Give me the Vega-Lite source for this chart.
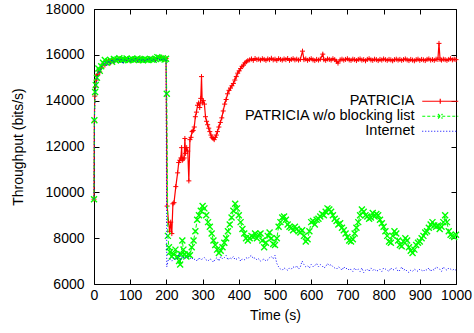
{
"$schema": "https://vega.github.io/schema/vega-lite/v6.json",
"width": 362, "height": 275,
"autosize": "none",
"padding": {"left": 94, "top": 9, "right": 18, "bottom": 49},
"config": {
  "font": "Liberation Sans",
  "view": {"stroke": "black", "strokeWidth": 1},
  "axis": {"domain": false, "grid": false, "tickColor": "black", "tickWidth": 1, "labelColor": "black", "titleColor": "black", "labelFontSize": 14, "titleFontSize": 14, "titleFontWeight": "normal", "labelFont": "Liberation Sans", "titleFont": "Liberation Sans"}
},
"datasets": {
"red": [
{"t":0,"v":9700},{"t":1,"v":13100},{"t":2,"v":14200},{"t":4,"v":14600},{"t":6,"v":14900},{"t":8,"v":15100},{"t":10,"v":15150},{"t":13,"v":15300},{"t":16,"v":15250},{"t":20,"v":15450},{"t":25,"v":15600},{"t":30,"v":15550},{"t":35,"v":15700},{"t":40,"v":15750},{"t":45,"v":15650},{"t":50,"v":15780},{"t":55,"v":15700},{"t":60,"v":15800},{"t":65,"v":15760},{"t":70,"v":15820},{"t":75,"v":15780},{"t":80,"v":15760},{"t":85,"v":15820},{"t":90,"v":15780},{"t":95,"v":15800},{"t":100,"v":15740},{"t":105,"v":15800},{"t":110,"v":15830},{"t":115,"v":15770},{"t":120,"v":15800},{"t":125,"v":15760},{"t":130,"v":15820},{"t":135,"v":15790},{"t":140,"v":15760},{"t":145,"v":15800},{"t":150,"v":15830},{"t":155,"v":15780},{"t":160,"v":15810},{"t":165,"v":15820},{"t":170,"v":15790},{"t":175,"v":15850},{"t":180,"v":15880},{"t":185,"v":15840},{"t":190,"v":15860},{"t":195,"v":15820},{"t":199,"v":15840},
{"t":202,"v":9400},{"t":206,"v":8700},{"t":209,"v":8300},{"t":212,"v":8700},{"t":215,"v":8200},{"t":218,"v":9500},{"t":221,"v":9550},{"t":226,"v":10250},{"t":231,"v":10850},{"t":234,"v":11300},{"t":237,"v":11400},{"t":240,"v":11500},{"t":242,"v":11950},{"t":244,"v":11400},{"t":246,"v":11450},{"t":249,"v":11500},{"t":251,"v":12350},{"t":253,"v":11700},{"t":256,"v":11950},{"t":259,"v":11800},{"t":262,"v":10500},{"t":265,"v":12300},{"t":268,"v":12400},{"t":271,"v":12650},{"t":274,"v":12700},{"t":277,"v":12850},{"t":280,"v":13300},{"t":283,"v":13500},{"t":286,"v":13800},{"t":289,"v":13900},{"t":292,"v":13700},{"t":295,"v":14100},{"t":297,"v":15050},{"t":299,"v":13900},{"t":302,"v":14000},{"t":305,"v":13850},{"t":308,"v":13300},{"t":311,"v":13100},{"t":314,"v":12950},{"t":317,"v":12800},{"t":320,"v":12650},{"t":323,"v":12500},{"t":326,"v":12400},{"t":329,"v":12350},{"t":332,"v":12300},{"t":335,"v":12400},{"t":338,"v":12500},{"t":341,"v":12650},{"t":345,"v":12850},{"t":349,"v":13050},{"t":353,"v":13250},{"t":357,"v":13550},{"t":361,"v":13850},{"t":365,"v":14050},{"t":369,"v":14300},{"t":373,"v":14450},{"t":377,"v":14550},{"t":381,"v":14650},{"t":385,"v":14750},{"t":389,"v":14900},{"t":393,"v":15050},{"t":397,"v":15200},{"t":401,"v":15300},{"t":405,"v":15400},{"t":409,"v":15500},{"t":413,"v":15550},{"t":417,"v":15650},{"t":421,"v":15700},{"t":425,"v":15750},
{"t":430,"v":15780},{"t":435,"v":15820},{"t":440,"v":15760},{"t":445,"v":15840},{"t":450,"v":15790},{"t":455,"v":15810},{"t":460,"v":15770},{"t":465,"v":15830},{"t":470,"v":15800},{"t":475,"v":15760},{"t":480,"v":15820},{"t":485,"v":15790},{"t":490,"v":15850},{"t":495,"v":15780},{"t":500,"v":15810},{"t":505,"v":15760},{"t":510,"v":15830},{"t":515,"v":15800},{"t":520,"v":15770},{"t":525,"v":15820},{"t":530,"v":15790},{"t":535,"v":15840},{"t":540,"v":15760},{"t":545,"v":15800},{"t":550,"v":15830},{"t":555,"v":15780},{"t":560,"v":15810},{"t":565,"v":15770},{"t":570,"v":15800},{"t":576,"v":16160},{"t":580,"v":15790},{"t":585,"v":15820},{"t":590,"v":15760},{"t":595,"v":15800},{"t":600,"v":15830},{"t":605,"v":15780},{"t":610,"v":15750},{"t":615,"v":15800},{"t":620,"v":15770},{"t":625,"v":15810},{"t":632,"v":16030},{"t":635,"v":15790},{"t":640,"v":15760},{"t":645,"v":15820},{"t":650,"v":15800},{"t":655,"v":15770},{"t":660,"v":15830},{"t":665,"v":15790},{"t":670,"v":15720},{"t":674,"v":15640},{"t":680,"v":15780},{"t":685,"v":15810},{"t":690,"v":15770},{"t":695,"v":15800},{"t":700,"v":15830},{"t":705,"v":15780},{"t":710,"v":15760},{"t":715,"v":15810},{"t":720,"v":15790},{"t":725,"v":15750},{"t":730,"v":15800},{"t":735,"v":15820},{"t":740,"v":15770},{"t":745,"v":15790},{"t":750,"v":15740},{"t":755,"v":15800},{"t":760,"v":15830},{"t":765,"v":15780},{"t":770,"v":15760},{"t":775,"v":15810},{"t":780,"v":15790},{"t":785,"v":15750},{"t":790,"v":15800},{"t":795,"v":15770},{"t":800,"v":15820},{"t":805,"v":15790},{"t":810,"v":15760},{"t":815,"v":15800},{"t":820,"v":15780},{"t":825,"v":15740},{"t":830,"v":15790},{"t":835,"v":15810},{"t":840,"v":15770},{"t":845,"v":15800},{"t":850,"v":15760},{"t":855,"v":15790},{"t":860,"v":15820},{"t":865,"v":15780},{"t":870,"v":15750},{"t":875,"v":15800},{"t":880,"v":15770},{"t":885,"v":15740},{"t":890,"v":15790},{"t":895,"v":15810},{"t":900,"v":15760},{"t":905,"v":15800},{"t":910,"v":15780},{"t":915,"v":15750},{"t":920,"v":15800},{"t":925,"v":15820},{"t":930,"v":15770},{"t":935,"v":15790},{"t":940,"v":15760},{"t":945,"v":15810},{"t":950,"v":15800},{"t":953,"v":16500},{"t":956,"v":15800},{"t":960,"v":15770},{"t":965,"v":15810},{"t":970,"v":15790},{"t":975,"v":15760},{"t":980,"v":15800},{"t":985,"v":15830},{"t":990,"v":15780},{"t":995,"v":15810},{"t":1000,"v":15790}
],
"green": [
{"t":0,"v":9700},{"t":1,"v":13150},{"t":3,"v":14380},{"t":5,"v":14680},{"t":8,"v":15000},{"t":12,"v":15400},{"t":16,"v":15300},{"t":20,"v":15500},{"t":25,"v":15650},{"t":30,"v":15770},{"t":35,"v":15650},{"t":40,"v":15720},{"t":45,"v":15780},{"t":50,"v":15700},{"t":55,"v":15820},{"t":60,"v":15760},{"t":65,"v":15800},{"t":70,"v":15850},{"t":75,"v":15760},{"t":80,"v":15800},{"t":85,"v":15780},{"t":90,"v":15840},{"t":95,"v":15760},{"t":100,"v":15800},{"t":105,"v":15820},{"t":110,"v":15780},{"t":115,"v":15800},{"t":120,"v":15840},{"t":125,"v":15770},{"t":130,"v":15800},{"t":135,"v":15760},{"t":140,"v":15820},{"t":145,"v":15790},{"t":150,"v":15770},{"t":155,"v":15820},{"t":160,"v":15800},{"t":165,"v":15780},{"t":170,"v":15830},{"t":175,"v":15900},{"t":180,"v":15870},{"t":185,"v":15820},{"t":190,"v":15850},{"t":195,"v":15800},{"t":199,"v":15830},{"t":201,"v":14300},
{"t":204,"v":8100},{"t":207,"v":7600},{"t":210,"v":7400},{"t":215,"v":7200},{"t":220,"v":7300},{"t":225,"v":7500},{"t":230,"v":7200},{"t":235,"v":7000},{"t":238,"v":6850},{"t":241,"v":7300},{"t":244,"v":7900},{"t":247,"v":7500},{"t":250,"v":7300},{"t":255,"v":7200},{"t":260,"v":7300},{"t":265,"v":7250},{"t":270,"v":7600},{"t":275,"v":7900},{"t":280,"v":8300},{"t":285,"v":8800},{"t":290,"v":9000},{"t":295,"v":9200},{"t":300,"v":9400},{"t":305,"v":9300},{"t":310,"v":9000},{"t":315,"v":8700},{"t":320,"v":8500},{"t":325,"v":8200},{"t":330,"v":7900},{"t":335,"v":7700},{"t":340,"v":7500},{"t":345,"v":7350},{"t":350,"v":7450},{"t":355,"v":7600},{"t":360,"v":7800},{"t":365,"v":8000},{"t":370,"v":8300},{"t":375,"v":8600},{"t":380,"v":8900},{"t":385,"v":9200},{"t":390,"v":9500},{"t":395,"v":9300},{"t":400,"v":9000},{"t":405,"v":8700},{"t":410,"v":8400},{"t":415,"v":8200},{"t":420,"v":8000},{"t":425,"v":7900},{"t":430,"v":8000},{"t":435,"v":8100},{"t":440,"v":8050},{"t":445,"v":8200},{"t":450,"v":8000},{"t":455,"v":8150},{"t":460,"v":8200},{"t":465,"v":7900},{"t":470,"v":7600},{"t":475,"v":7800},{"t":480,"v":8100},{"t":485,"v":8250},{"t":490,"v":8000},{"t":495,"v":7750},{"t":500,"v":7700},{"t":505,"v":8000},{"t":510,"v":8500},{"t":515,"v":8700},{"t":520,"v":8900},{"t":525,"v":8950},{"t":530,"v":8800},{"t":535,"v":8600},{"t":540,"v":8500},{"t":545,"v":8450},{"t":550,"v":8350},{"t":555,"v":8500},{"t":560,"v":8400},{"t":565,"v":8300},{"t":570,"v":8250},{"t":575,"v":8350},{"t":580,"v":8100},{"t":585,"v":7850},{"t":590,"v":7950},{"t":595,"v":8300},{"t":600,"v":8700},{"t":605,"v":8750},{"t":610,"v":8600},{"t":615,"v":8800},{"t":620,"v":8850},{"t":625,"v":8950},{"t":630,"v":9050},{"t":635,"v":9000},{"t":640,"v":9150},{"t":645,"v":9300},{"t":650,"v":9250},{"t":655,"v":9150},{"t":660,"v":9000},{"t":665,"v":8850},{"t":670,"v":8750},{"t":675,"v":8600},{"t":680,"v":8650},{"t":685,"v":8450},{"t":690,"v":8350},{"t":695,"v":8200},{"t":700,"v":8050},{"t":705,"v":7900},{"t":710,"v":7850},{"t":715,"v":7950},{"t":720,"v":8200},{"t":725,"v":8450},{"t":730,"v":8700},{"t":735,"v":9000},{"t":740,"v":9250},{"t":745,"v":9150},{"t":750,"v":9000},{"t":755,"v":8950},{"t":760,"v":8850},{"t":765,"v":8900},{"t":770,"v":9100},{"t":775,"v":8950},{"t":780,"v":9050},{"t":785,"v":9000},{"t":790,"v":8800},{"t":795,"v":8650},{"t":800,"v":8500},{"t":805,"v":8300},{"t":810,"v":8100},{"t":815,"v":7850},{"t":820,"v":7800},{"t":825,"v":8100},{"t":830,"v":8300},{"t":835,"v":8200},{"t":840,"v":7900},{"t":845,"v":7700},{"t":850,"v":7650},{"t":855,"v":7850},{"t":860,"v":8000},{"t":865,"v":7900},{"t":870,"v":7600},{"t":875,"v":7450},{"t":880,"v":7350},{"t":885,"v":7500},{"t":890,"v":7700},{"t":895,"v":7800},{"t":900,"v":7850},{"t":905,"v":8000},{"t":910,"v":8100},{"t":915,"v":8250},{"t":920,"v":8300},{"t":925,"v":8450},{"t":930,"v":8600},{"t":935,"v":8700},{"t":940,"v":8550},{"t":945,"v":8500},{"t":950,"v":8550},{"t":955,"v":8400},{"t":960,"v":8500},{"t":965,"v":8700},{"t":970,"v":9000},{"t":975,"v":8700},{"t":980,"v":8300},{"t":985,"v":8150},{"t":990,"v":8100},{"t":995,"v":8050},{"t":1000,"v":8150}
],
"blue": [
{"t":0,"v":9700},{"t":1,"v":13000},{"t":3,"v":14300},{"t":5,"v":14600},{"t":8,"v":14900},{"t":12,"v":15300},{"t":16,"v":15200},{"t":20,"v":15450},{"t":25,"v":15550},{"t":30,"v":15700},{"t":35,"v":15500},{"t":40,"v":15750},{"t":45,"v":15600},{"t":50,"v":15800},{"t":55,"v":15650},{"t":60,"v":15750},{"t":65,"v":15850},{"t":70,"v":15700},{"t":75,"v":15800},{"t":80,"v":15600},{"t":85,"v":15800},{"t":90,"v":15750},{"t":95,"v":15850},{"t":100,"v":15700},{"t":105,"v":15800},{"t":110,"v":15750},{"t":115,"v":15850},{"t":120,"v":15700},{"t":125,"v":15800},{"t":130,"v":15750},{"t":135,"v":15820},{"t":140,"v":15700},{"t":145,"v":15800},{"t":150,"v":15780},{"t":155,"v":15850},{"t":160,"v":15750},{"t":165,"v":15800},{"t":170,"v":15700},{"t":175,"v":15850},{"t":180,"v":15800},{"t":185,"v":15750},{"t":190,"v":15850},{"t":195,"v":15800},{"t":199,"v":15800},{"t":201,"v":6750},
{"t":205,"v":7050},{"t":210,"v":7100},{"t":215,"v":7000},{"t":220,"v":7150},{"t":225,"v":7050},{"t":230,"v":7100},{"t":235,"v":7350},{"t":240,"v":7050},{"t":245,"v":7200},{"t":250,"v":7100},{"t":255,"v":7150},{"t":260,"v":7200},{"t":265,"v":7100},{"t":270,"v":7150},{"t":275,"v":7050},{"t":280,"v":7100},{"t":285,"v":7000},{"t":290,"v":7150},{"t":295,"v":7050},{"t":300,"v":7100},{"t":305,"v":7150},{"t":310,"v":7050},{"t":315,"v":7000},{"t":320,"v":7100},{"t":325,"v":7050},{"t":330,"v":6950},{"t":335,"v":7100},{"t":340,"v":7150},{"t":345,"v":7000},{"t":350,"v":7200},{"t":355,"v":7100},{"t":360,"v":7150},{"t":365,"v":7250},{"t":370,"v":7050},{"t":375,"v":7150},{"t":380,"v":7100},{"t":385,"v":7200},{"t":390,"v":7050},{"t":395,"v":7100},{"t":400,"v":7150},{"t":405,"v":7000},{"t":410,"v":7100},{"t":415,"v":7050},{"t":420,"v":7150},{"t":425,"v":7100},{"t":430,"v":7200},{"t":435,"v":7250},{"t":440,"v":7100},{"t":445,"v":7150},{"t":450,"v":7050},{"t":455,"v":7100},{"t":460,"v":7000},{"t":465,"v":7050},{"t":470,"v":7100},{"t":475,"v":7000},{"t":480,"v":7050},{"t":485,"v":7150},{"t":490,"v":7200},{"t":495,"v":7100},{"t":500,"v":7250},{"t":505,"v":6900},{"t":510,"v":6750},{"t":515,"v":6650},{"t":520,"v":6600},{"t":525,"v":6700},{"t":530,"v":6650},{"t":535,"v":6600},{"t":540,"v":6700},{"t":545,"v":6650},{"t":550,"v":6750},{"t":555,"v":6700},{"t":560,"v":6800},{"t":565,"v":6650},{"t":570,"v":6750},{"t":575,"v":7000},{"t":580,"v":6850},{"t":585,"v":6750},{"t":590,"v":6800},{"t":595,"v":6700},{"t":600,"v":6850},{"t":605,"v":6750},{"t":610,"v":6800},{"t":615,"v":6900},{"t":620,"v":6750},{"t":625,"v":6850},{"t":630,"v":6800},{"t":635,"v":6700},{"t":640,"v":6750},{"t":645,"v":6900},{"t":650,"v":6800},{"t":655,"v":6850},{"t":660,"v":6750},{"t":665,"v":6700},{"t":670,"v":6650},{"t":675,"v":6750},{"t":680,"v":6700},{"t":685,"v":6600},{"t":690,"v":6750},{"t":695,"v":6650},{"t":700,"v":6700},{"t":705,"v":6600},{"t":710,"v":6650},{"t":715,"v":6550},{"t":720,"v":6700},{"t":725,"v":6600},{"t":730,"v":6650},{"t":735,"v":6550},{"t":740,"v":6700},{"t":745,"v":6500},{"t":750,"v":6600},{"t":755,"v":6650},{"t":760,"v":6550},{"t":765,"v":6700},{"t":770,"v":6600},{"t":775,"v":6650},{"t":780,"v":6550},{"t":785,"v":6600},{"t":790,"v":6650},{"t":795,"v":6550},{"t":800,"v":6700},{"t":805,"v":6650},{"t":810,"v":6600},{"t":815,"v":6550},{"t":820,"v":6700},{"t":825,"v":6600},{"t":830,"v":6650},{"t":835,"v":6700},{"t":840,"v":6550},{"t":845,"v":6600},{"t":850,"v":6750},{"t":855,"v":6600},{"t":860,"v":6650},{"t":865,"v":6550},{"t":870,"v":6500},{"t":875,"v":6600},{"t":880,"v":6550},{"t":885,"v":6650},{"t":890,"v":6600},{"t":895,"v":6550},{"t":900,"v":6650},{"t":905,"v":6600},{"t":910,"v":6550},{"t":915,"v":6650},{"t":920,"v":6600},{"t":925,"v":6700},{"t":930,"v":6550},{"t":935,"v":6650},{"t":940,"v":6600},{"t":945,"v":6750},{"t":950,"v":6700},{"t":955,"v":6650},{"t":960,"v":6550},{"t":965,"v":6750},{"t":970,"v":6650},{"t":975,"v":6600},{"t":980,"v":6700},{"t":985,"v":6650},{"t":990,"v":6600},{"t":995,"v":6650},{"t":1000,"v":6600}
]
},
"layer": [
{
  "data": {"name": "red"},
  "mark": {"type": "line", "strokeWidth": 1.2},
  "encoding": {
    "x": {"field": "t", "type": "quantitative", "scale": {"domain": [0, 1000], "nice": false},
          "axis": {"orient": "bottom", "values": [0,100,200,300,400,500,600,700,800,900,1000], "format": "d", "tickSize": -5, "labelPadding": 9, "labelFlush": false, "title": "Time (s)", "titlePadding": 6}},
    "y": {"field": "v", "type": "quantitative", "scale": {"domain": [6000, 18000], "nice": false, "zero": false},
          "axis": {"orient": "left", "values": [6000,8000,10000,12000,14000,16000,18000], "format": "d", "tickSize": -5, "labelPadding": 15, "title": "Throughput (bits/s)", "titlePadding": 20}},
    "color": {"datum": "PATRICIA", "type": "nominal",
      "scale": {"domain": ["PATRICIA", "PATRICIA w/o blocking list", "Internet"], "range": ["#ff0000", "#00ff00", "#0000ff"]},
      "legend": {"orient": "none", "legendX": 339, "legendY": 85, "title": null, "padding": 0, "rowPadding": 0,
        "symbolType": "M-4,0H4", "symbolSize": 81, "symbolStrokeWidth": 1.2, "symbolFillColor": "transparent",
        "labelAlign": "right", "labelOffset": -33, "labelFontSize": 14.5, "labelFont": "Liberation Sans", "labelColor": "black", "labelLimit": 0,
        "encode": {"symbols": {"update": {
          "shape": {"signal": "datum.value === 'PATRICIA' ? 'M-4,0H4M0,-0.55V0.55M-0.55,0H0.55' : datum.value === 'Internet' ? 'M-4,0H4' : 'M-4,0H4M-0.5,-0.5L0.5,0.5M-0.5,0.5L0.5,-0.5'"},
          "strokeDash": {"signal": "datum.value === 'PATRICIA w/o blocking list' ? [3,2] : datum.value === 'Internet' ? [1,2] : [1,0]"}
        }}}}
    }
  }
},
{
  "data": {"name": "red"},
  "mark": {"type": "point", "shape": "M-1,0H1M0,-1V1", "size": 25, "filled": false, "strokeWidth": 1, "opacity": 1},
  "encoding": {
    "x": {"field": "t", "type": "quantitative", "axis": {"orient": "top", "values": [0,100,200,300,400,500,600,700,800,900,1000], "tickSize": -5, "labels": false, "title": null}},
    "y": {"field": "v", "type": "quantitative", "axis": {"orient": "right", "values": [6000,8000,10000,12000,14000,16000,18000], "tickSize": -5, "labels": false, "title": null}},
    "color": {"datum": "PATRICIA", "type": "nominal"}
  }
},
{
  "data": {"name": "green"},
  "mark": {"type": "line", "strokeWidth": 1, "strokeDash": [4, 2]},
  "encoding": {
    "x": {"field": "t", "type": "quantitative", "axis": null},
    "y": {"field": "v", "type": "quantitative", "axis": null},
    "color": {"datum": "PATRICIA w/o blocking list", "type": "nominal"}
  }
},
{
  "data": {"name": "green"},
  "mark": {"type": "point", "shape": "M-1,-1L1,1M-1,1L1,-1", "size": 36, "filled": false, "strokeWidth": 1.4, "opacity": 1},
  "encoding": {
    "x": {"field": "t", "type": "quantitative", "axis": null},
    "y": {"field": "v", "type": "quantitative", "axis": null},
    "color": {"datum": "PATRICIA w/o blocking list", "type": "nominal"}
  }
},
{
  "data": {"name": "blue"},
  "mark": {"type": "line", "strokeWidth": 1, "strokeDash": [1, 2]},
  "encoding": {
    "x": {"field": "t", "type": "quantitative", "axis": null},
    "y": {"field": "v", "type": "quantitative", "axis": null},
    "color": {"datum": "Internet", "type": "nominal"}
  }
}
],
"resolve": {"axis": {"x": "independent", "y": "independent"}}
}
